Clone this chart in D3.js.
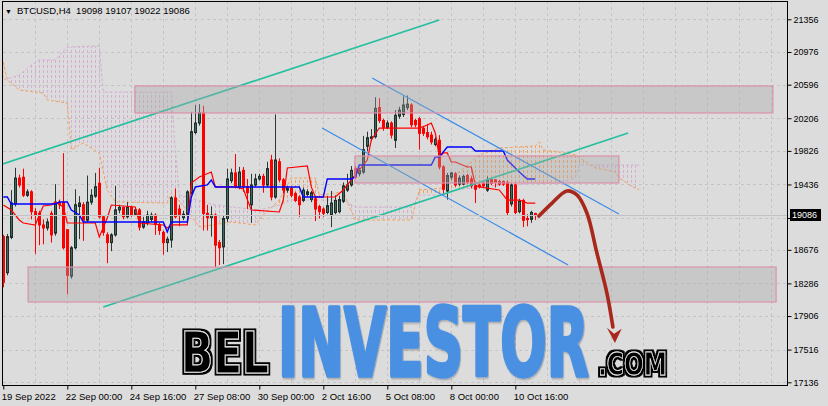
<!DOCTYPE html>
<html><head><meta charset="utf-8">
<script src="https://cdnjs.cloudflare.com/ajax/libs/d3/7.8.5/d3.min.js"></script>
<style>html,body{margin:0;padding:0;background:#dcdcdc;overflow:hidden}svg{display:block}</style>
</head><body><svg id="c" width="828" height="406"></svg>
<script>
// ---------- DATA ----------
const symbolTitle = "BTCUSD,H4  19098 19107 19022 19086";
const opens  = [18830,18410,18820,19210,19510,19520,19310,19350,19120,19100,18965,18930,19100,18870,19230,19230,18910,18370,18700,19180,19200,19020,19230,19300,19450,19060,18850,18760,18850,19140,19170,19060,19170,19090,19140,18940,18990,19030,19080,18970,18880,18760,18790,19280,19150,19050,19090,19340,20040,20150,20270,19100,19050,19080,18760,18710,19040,19480,19570,19410,19600,19410,19200,19430,19500,19530,19430,19720,19290,19700,19490,19370,19390,19330,19290,19250,19320,19260,19270,19180,19150,19110,19080,19110,19120,19240,19370,19430,19620,19560,19580,19880,19970,19990,20330,20180,20100,20150,19950,20230,20250,20330,20360,20180,20200,20090,20040,20010,19900,19950,19640,19360,19520,19560,19440,19440,19540,19500,19420,19430,19450,19370,19490,19490,19470,19470,19460,19210,19430,19120,19250,19040,19030,19098];
const highs  = [18850,18860,19370,19630,19550,19620,19380,19370,19160,19130,19030,19040,19130,19440,19260,19800,18910,18720,19380,19300,19230,19540,19380,19570,19630,19080,18880,18870,19420,19200,19180,19230,19190,19160,19160,19060,19130,19110,19100,18990,18900,18830,19300,19390,19200,19130,19370,20280,20360,20370,20350,19200,19180,19100,18790,19080,19620,19620,19790,19640,19640,19500,19560,19560,19560,19560,19700,19780,20250,19740,19510,19420,19410,19350,19310,19400,19380,19360,19290,19200,19170,19300,19360,19310,19300,19460,19560,19650,19650,19630,20000,20050,20080,20450,20440,20200,20180,20170,20300,20340,20460,20470,20380,20200,20220,20110,20140,20050,19990,20010,19660,19570,19580,19580,19540,19550,19560,19530,19440,19450,19470,19530,19510,19500,19490,19480,19480,19450,19450,19270,19270,19090,19130,19107];
const lows   = [18240,18380,18800,19180,19400,19290,19290,19030,18630,18730,18740,18900,18760,18840,19150,18680,18160,18340,18680,18800,18780,19000,19200,19280,19040,18840,18520,18660,18830,19100,19030,19040,19060,19070,18900,18920,18960,19000,18850,18850,18620,18650,18700,19040,18950,19020,19060,19320,20020,20120,18900,18900,18830,18470,18500,18510,19000,19450,19390,19380,19350,19150,18990,19410,19480,19340,19400,19250,19270,19460,19330,19340,19290,19230,19060,19230,19300,19230,19010,19040,19060,19090,18940,19090,19100,19220,19350,19410,19500,19530,19560,19820,19940,19970,20150,20060,20080,19970,19860,20200,20220,20300,20100,20100,19840,20000,19960,19900,19880,19610,19330,19260,19490,19410,19420,19430,19440,19390,19220,19390,19400,19350,19430,19400,19420,19420,19080,19180,19090,19100,18940,18950,18990,19022];
const closes = [18300,18830,19220,19510,19430,19310,19350,19120,19080,18965,18930,19000,18850,19230,19200,18700,18380,18700,19200,19220,19020,19230,19310,19410,19060,18880,18760,18850,19140,19170,19060,19170,19080,19140,18940,19000,19080,19080,18970,18900,18760,18800,19280,19060,19080,19090,19350,20050,20150,20270,19100,19050,19080,18730,18700,19040,19500,19570,19410,19580,19410,19340,19430,19500,19530,19430,19620,19290,19720,19490,19370,19390,19310,19250,19200,19370,19350,19340,19150,19120,19100,19190,19220,19250,19260,19420,19430,19600,19520,19600,19840,19980,19990,20320,20180,20100,20150,20010,20240,20300,20360,20370,20130,20130,20030,20030,19990,19930,19960,19640,19380,19540,19570,19430,19510,19530,19460,19420,19380,19410,19420,19490,19450,19460,19440,19440,19110,19430,19110,19240,19020,19030,19110,19086];
const currentPrice = 19086;

const priceTicks  = [21356,20976,20596,20206,19826,19436,19046,18676,18286,17906,17516,17136];
const hiddenTick  = 19046;
const timeLabels  = ["19 Sep 2022","22 Sep 00:00","24 Sep 16:00","27 Sep 08:00","30 Sep 00:00","2 Oct 16:00","5 Oct 08:00","8 Oct 00:00","10 Oct 16:00"];
const timeLabelBars = [0,16,32,48,64,80,96,112,128];

// Ichimoku lines: [bar index, price]
const tenkan = [[0,19197],[2,19139],[4,19023],[5,18988],[8,18965],[9,19081],[10,19186],[12,19197],[13,19232],[15,19174],[16,18988],[23,18988],[24,18825],[26,19046],[27,19197],[33,19174],[34,18988],[40,18965],[41,18930],[42,18965],[46,18965],[47,19453],[49,19523],[52,19581],[53,19407],[58,19407],[60,19384],[62,19139],[69,19116],[70,19255],[71,19627],[76,19651],[77,19407],[78,19290],[83,19290],[85,19372],[87,19488],[88,19546],[91,19720],[92,19953],[94,20092],[104,20092],[106,20127],[107,20150],[108,20034],[109,19755],[110,19802],[111,19802],[112,19697],[113,19697],[116,19639],[117,19639],[118,19430],[119,19407],[124,19372],[126,19255],[129,19255],[131,19220],[133,19220]];
const kijun = [[0,19290],[1,19290],[2,19209],[13,19209],[14,19232],[16,19232],[17,19139],[19,19081],[20,19000],[40,19000],[41,18884],[42,19000],[46,19000],[47,19290],[48,19407],[51,19430],[52,19488],[53,19407],[74,19407],[75,19290],[80,19290],[81,19500],[87,19500],[88,19523],[89,19662],[107,19662],[108,19755],[109,19755],[111,19871],[117,19871],[118,19825],[125,19825],[126,19720],[129,19581],[131,19500],[133,19500]];
const spanA = [[0,20860],[1,20650],[4,20534],[10,20499],[11,20418],[16,20383],[17,19837],[19,19895],[20,19918],[24,19802],[26,19372],[28,19232],[41,19220],[42,19337],[46,19139],[49,18941],[57,19000],[63,18965],[65,19081],[69,19255],[72,19511],[78,19511],[79,19314],[85,19348],[88,19023],[102,19023],[104,19372],[110,19395],[113,19546],[117,19697],[119,19779],[124,19860],[133,19884],[134,19930],[135,19837],[139,19814],[143,19779],[145,19720],[148,19627],[153,19581],[154,19511],[157,19418],[159,19372]];
const spanB = [[0,20650],[4,20708],[7,20825],[9,20883],[13,20883],[16,21034],[24,21046],[25,20511],[42,20511],[43,19837],[44,19314],[53,19197],[64,19139],[69,19197],[72,19255],[85,19255],[88,19174],[102,19174],[104,19314],[110,19314],[113,19372],[124,19430],[139,19453],[143,19511],[144,19662],[159,19662]];

// drawn objects: [bar index, price]
const upperTeal = [[-1,19662],[109,21348]];
const lowerTeal = [[25,18012],[156.2,20034]];
const blueUpper = [[92.2,20674],[153.9,19093]];
const blueLower = [[79.7,20092],[141.2,18500]];
const zones = [ {from:32.9,to:192.4,top:20581,bottom:20267},
                {from:87.9,to:153.9,top:19767,bottom:19453},
                {from:6.2, to:193.2,top:18476,bottom:18070} ];
const arrowPath = [[133.9,19069],[137.2,19220],[140.9,19360],[143.4,19314],[145.9,19104],[148.4,18639],[150.9,18174],[152.4,17779]];
const arrowHead = [[150.9,17770],[152.9,17593],[154.6,17760],[152.7,17700]];
const logoParts = ["BEL","INVESTOR",".COM"];

// ---------- CHART ----------
const W = 828, H = 406, L = 3, T = 1, R = 787, B = 385;
const svg = d3.select("#c");
const x = d3.scaleLinear().domain([0,196]).range([3.3, 787.3]);
const y = d3.scaleLinear().domain([17104.7, 21568.7]).range([B, T]);
const font = "'Liberation Sans', Arial, sans-serif";

svg.append("rect").attr("width",W).attr("height",H).attr("fill","#dcdcdc");
const defs = svg.append("defs");
defs.append("clipPath").attr("id","plot").append("rect").attr("x",L).attr("y",T).attr("width",R-L).attr("height",B-T);

// grid
const grid = svg.append("g").attr("clip-path","url(#plot)").attr("stroke","#c4c4c4").attr("stroke-dasharray","3,3");
grid.selectAll("line.h").data(priceTicks).join("line").attr("x1",L).attr("x2",R)
  .attr("y1",d=>Math.round(y(d))+0.5).attr("y2",d=>Math.round(y(d))+0.5);
grid.selectAll("line.v").data(d3.range(8,197,8)).join("line").attr("y1",T).attr("y2",B)
  .attr("x1",d=>Math.round(x(d))+0.5).attr("x2",d=>Math.round(x(d))+0.5);

// cloud
const plot = svg.append("g").attr("clip-path","url(#plot)");
function hatch(id,color){
  const p = defs.append("pattern").attr("id",id).attr("patternUnits","userSpaceOnUse")
    .attr("x",Math.round(x(0))).attr("y",0).attr("width",x(1)-x(0)).attr("height",5);
  p.append("line").attr("x1",0.5).attr("x2",0.5).attr("y1",0).attr("y2",3).attr("stroke",color).attr("stroke-width",1);
}
hatch("hA","#F2A15C"); hatch("hB","#D3B0D3");
const belowArea = d3.area().x(d=>x(d[0])).y0(B+50).y1(d=>y(d[1]));
defs.append("clipPath").attr("id","belowA").append("path").attr("d",belowArea(spanA));
defs.append("clipPath").attr("id","belowB").append("path").attr("d",belowArea(spanB));
const lineG = d3.line().x(d=>x(d[0])).y(d=>y(d[1]));
const between = lineG(spanA) + "L" + lineG(spanB.slice().reverse()).slice(1) + "Z";
plot.append("g").attr("clip-path","url(#belowA)").append("path").attr("d",between).attr("fill","url(#hA)");
plot.append("g").attr("clip-path","url(#belowB)").append("path").attr("d",between).attr("fill","url(#hB)");
plot.append("path").attr("d",lineG(spanB)).attr("fill","none").attr("stroke","#D3B0D3").attr("stroke-dasharray","3,2");
plot.append("path").attr("d",lineG(spanA)).attr("fill","none").attr("stroke","#F2A15C").attr("stroke-dasharray","3,2");

// candles
const bars = d3.range(opens.length).map(i=>({i,o:opens[i],h:highs[i],l:lows[i],c:closes[i]}));
const cg = plot.append("g");
cg.selectAll("line").data(bars).join("line")
  .attr("x1",d=>Math.round(x(d.i))+0.5).attr("x2",d=>Math.round(x(d.i))+0.5)
  .attr("y1",d=>y(d.h)).attr("y2",d=>y(d.l))
  .attr("stroke",d=>d.c>=d.o?"#2b3a35":"#ff0000").attr("stroke-width",1);
cg.selectAll("rect").data(bars).join("rect")
  .attr("x",d=>Math.round(x(d.i))-0.5).attr("width",2)
  .attr("y",d=>y(Math.max(d.o,d.c))).attr("height",d=>Math.max(1,Math.abs(y(d.o)-y(d.c))))
  .attr("fill",d=>d.c>=d.o?"#3a6d5d":"#ff0000")
  .attr("stroke",d=>d.c>=d.o?"#1f2d29":"#ff0000").attr("stroke-width",1);

// ichimoku
plot.append("path").attr("d",lineG(tenkan)).attr("fill","none").attr("stroke","#ff0000").attr("stroke-width",1.2);
plot.append("path").attr("d",lineG(kijun)).attr("fill","none").attr("stroke","#0000ff").attr("stroke-width",1.4);

// trend lines
[[upperTeal,"#22BFA0",1.6],[lowerTeal,"#22BFA0",1.6],[blueUpper,"#3C8DE8",1.3],[blueLower,"#3C8DE8",1.3]].forEach(([pts,col,w])=>{
  plot.append("path").attr("d",lineG(pts)).attr("fill","none").attr("stroke",col).attr("stroke-width",w);
});

// bid line
plot.append("line").attr("x1",L).attr("x2",R).attr("y1",Math.round(y(currentPrice))+0.5).attr("y2",Math.round(y(currentPrice))+0.5)
  .attr("stroke","#c2c2c2");

// zones
plot.selectAll("rect.zone").data(zones).join("rect").attr("class","zone")
  .attr("x",d=>x(d.from)).attr("width",d=>x(d.to)-x(d.from))
  .attr("y",d=>y(d.top)).attr("height",d=>y(d.bottom)-y(d.top))
  .attr("fill","rgba(165,165,165,0.36)").attr("stroke","#dc90aa").attr("stroke-width",1.2);

// arrow
plot.append("path").attr("d",d3.line().x(d=>x(d[0])).y(d=>y(d[1])).curve(d3.curveCatmullRom)(arrowPath))
  .attr("fill","none").attr("stroke","#a8281b").attr("stroke-width",3.6).attr("stroke-linecap","round");
plot.append("path").attr("d",lineG(arrowHead)+"Z").attr("fill","#a8281b");

// logo filters
const fo = defs.append("filter").attr("id","outl").attr("x","-10%").attr("y","-20%").attr("width","120%").attr("height","140%");
fo.append("feMorphology").attr("in","SourceAlpha").attr("operator","dilate").attr("radius",2.4).attr("result","d");
fo.append("feFlood").attr("flood-color","#000").attr("result","f");
fo.append("feComposite").attr("in","f").attr("in2","d").attr("operator","in").attr("result","o");
const fm = fo.append("feMerge"); fm.append("feMergeNode").attr("in","o"); fm.append("feMergeNode").attr("in","SourceGraphic");
const fs = defs.append("filter").attr("id","shad").attr("x","-5%").attr("y","-10%").attr("width","110%").attr("height","120%");
fs.append("feDropShadow").attr("dx",1.2).attr("dy",1.2).attr("stdDeviation",1).attr("flood-color","#000").attr("flood-opacity",0.3);

// logo: each word scaled horizontally to its measured target width
const lg = svg.append("g");
const nar = "'Liberation Sans Narrow','DejaVu Sans Condensed','Liberation Sans',sans-serif";
function logoWord(txt, x0, base, size, targetW){
  const t = lg.append("text").attr("x",0).attr("y",0).attr("font-family",nar).attr("font-weight","bold")
    .attr("font-size",size).text(txt);
  const nat = t.node().getComputedTextLength();
  t.attr("transform",`translate(${x0},${base}) scale(${targetW/nat},1)`);
  return t;
}
logoWord(logoParts[0],181,373,57,88)
  .attr("fill","#000").attr("stroke","#eeeeee").attr("stroke-width",1).attr("filter","url(#outl)");
logoWord(logoParts[1],278,376,94,311)
  .attr("fill","#4A90E2").attr("stroke","#4A90E2").attr("stroke-width",3.5).attr("stroke-linejoin","round")
  .attr("filter","url(#shad)");
logoWord(logoParts[2],598,375,32,69)
  .attr("fill","#000").attr("stroke","#eeeeee").attr("stroke-width",0.8).attr("filter","url(#outl)");

// frame
svg.append("rect").attr("x",L-0.5).attr("y",T+0.5).attr("width",R-L+1).attr("height",B-T)
  .attr("fill","none").attr("stroke","#000");

// right axis
const ya = svg.append("g").attr("transform",`translate(${R+0.5},0)`)
  .call(d3.axisRight(y).tickValues(priceTicks).tickSize(4).tickPadding(2)
        .tickFormat(d=>d===hiddenTick?"":String(d)));
ya.select(".domain").remove();
ya.selectAll("line").attr("stroke","#000");
ya.selectAll("text").attr("font-family",font).attr("font-size",9).attr("fill","#000");

// bottom axis
const xa = svg.append("g").attr("transform",`translate(0,${B+0.5})`)
  .call(d3.axisBottom(x).tickValues(timeLabelBars).tickSize(4).tickPadding(4)
        .tickFormat((d,k)=>timeLabels[k]));
xa.select(".domain").remove();
xa.selectAll("line").attr("stroke","#000");
xa.selectAll("text").attr("font-family",font).attr("font-size",9.5).attr("fill","#000")
  .attr("text-anchor","start").attr("dx",-2);

// current price box
const cy = y(currentPrice);
svg.append("rect").attr("x",R+3).attr("y",Math.round(cy)-6).attr("width",31).attr("height",12).attr("fill","#000");
svg.append("text").attr("x",R+5).attr("y",cy).attr("dy","0.35em").attr("font-family",font).attr("font-size",9)
  .attr("fill","#fff").text(String(currentPrice));

// title
svg.append("text").attr("x",5).attr("y",14).attr("font-family",font).attr("font-size",7).attr("fill","#000").text("▼");
svg.append("text").attr("x",17).attr("y",14).attr("font-family",font).attr("font-size",9.5).attr("fill","#000")
  .attr("style","white-space:pre").text(symbolTitle);
</script></body></html>
